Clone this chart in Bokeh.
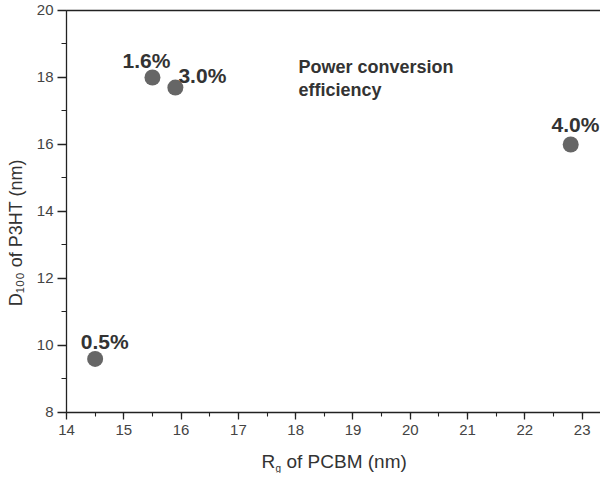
import math
from bokeh.plotting import figure
from bokeh.models import (Range1d, SingleIntervalTicker, FixedTicker, Label,
                          ColumnDataSource, LinearAxis)
from bokeh.embed import file_html
from bokeh.resources import INLINE
from bokeh.core.properties import value

# ---- data ----
rg_pcbm = [14.5, 15.5, 15.9, 22.8]             # R_g of PCBM (nm)
d100_p3ht = [9.6, 18.0, 17.7, 16.0]            # D100 of P3HT (nm)
pce_labels = ["0.5%", "1.6%", "3.0%", "4.0%"]  # power conversion efficiency

# label placement (screen px offsets from each point)
label_dx = [9.5, -6.0, 27.0, 4.7]
label_dy = [-17.0, -17.0, -12.5, -20.0]

FONT = "Liberation Sans"
TXT = "#333333"
AX = "#222222"

X0, X1 = 14, 23.32
Y0, Y1 = 8, 20

p = figure(width=600, height=473,
           x_range=Range1d(12.848, X1), y_range=Range1d(6.179, 20.2985),
           output_backend="svg", toolbar_location=None,
           min_border_left=0, min_border_right=0,
           min_border_top=0, min_border_bottom=0)
p.outline_line_color = None
p.grid.visible = False
p.background_fill_color = "white"
p.border_fill_color = "white"

# axes placed at fixed data locations
p.xaxis.fixed_location = Y0
p.yaxis.fixed_location = X0
p.xaxis.bounds = (X0, X1)
p.yaxis.bounds = (Y0, Y1)
p.xaxis.ticker = SingleIntervalTicker(interval=1, num_minor_ticks=2)
p.yaxis.ticker = SingleIntervalTicker(interval=2, num_minor_ticks=2)
for ax in (p.xaxis[0], p.yaxis[0]):
    ax.axis_line_color = AX
    ax.axis_line_width = 1.3
    ax.major_tick_line_color = AX
    ax.minor_tick_line_color = AX
    ax.major_tick_line_width = 1.3
    ax.minor_tick_line_width = 1.1
    ax.major_tick_in = 0
    ax.minor_tick_in = 0
    ax.major_label_text_font = FONT
    ax.major_label_text_font_size = "15px"
    ax.major_label_text_color = "#444444"
p.xaxis.major_tick_out = 7
p.xaxis.minor_tick_out = 4
p.xaxis.major_label_standoff = 6
p.yaxis.major_tick_out = 9
p.yaxis.minor_tick_out = 5
p.yaxis.major_label_standoff = 4

# top frame line
top = LinearAxis(fixed_location=Y1, bounds=(X0, X1), ticker=FixedTicker(ticks=[]),
                 axis_line_color=AX, axis_line_width=1.3,
                 major_tick_line_color=None, minor_tick_line_color=None,
                 major_label_text_font_size="0px")
p.add_layout(top, "above")

# points
src = ColumnDataSource(dict(x=rg_pcbm, y=d100_p3ht, t=pce_labels, dx=label_dx, dy=label_dy))
p.scatter(x="x", y="y", source=src, size=16, fill_color="#666666", line_color=None)
p.text(x="x", y="y", text="t", x_offset="dx", y_offset="dy", source=src,
       text_align="center", text_baseline="alphabetic",
       text_font=value(FONT), text_font_style="bold", text_font_size="21px",
       text_color=TXT)

# annotation text
for txt, yy in (("Power conversion", 18.31), ("efficiency", 17.62)):
    p.add_layout(Label(x=18.05, y=yy, text=txt, text_font=FONT, text_font_style="bold",
                       text_font_size="18px", text_color=TXT,
                       text_align="left", text_baseline="alphabetic"))

# x axis title: R_g of PCBM (nm)
p.add_layout(Label(x=17.403, y=6.537, text="R", text_font=FONT, text_font_size="19px",
                   text_color=TXT, text_align="left", text_baseline="alphabetic"))
p.add_layout(Label(x=17.647, y=6.343, text="g", text_font=FONT,
                   text_font_size="10px", text_color=TXT,
                   text_align="left", text_baseline="alphabetic"))
p.add_layout(Label(x=17.839, y=6.537, text="of PCBM (nm)", text_font=FONT,
                   text_font_size="19px", text_color=TXT,
                   text_align="left", text_baseline="alphabetic"))

# y axis title: D100 of P3HT (nm)
p.add_layout(Label(x=13.119, y=11.17, text="D\u2081\u2080\u2080 of P3HT (nm)", angle=math.pi / 2,
                   text_font=FONT, text_font_size="18px", text_color=TXT,
                   text_align="left", text_baseline="alphabetic"))

open("out.html", "w").write(file_html(p, INLINE))
